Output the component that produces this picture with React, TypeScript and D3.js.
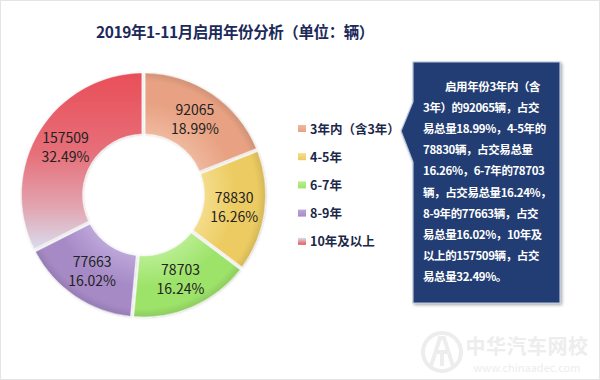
import React from "react";
import * as d3 from "d3";

const categories = ["3年内（含3年）", "4-5年", "6-7年", "8-9年", "10年及以上"];
const values = [92065, 78830, 78703, 77663, 157509];
const percents = ["18.99%", "16.26%", "16.24%", "16.02%", "32.49%"];
const colors = ["#E8A283", "#ECCC62", "#9DE36A", "#A68AC6", "#E9535B"];
const lightColors = ["#EFB89E", "#F4DC8A", "#B8EE90", "#BCA6D9", "#D8E1F3"];
const title = "2019年1-11月启用年份分析（单位：辆）";
const noteLines = [
  "启用年份3年内（含",
  "3年）的92065辆，占交",
  "易总量18.99%，4-5年的",
  "78830辆，占交易总量",
  "16.26%，6-7年的78703",
  "辆，占交易总量16.24%，",
  "8-9年的77663辆，占交",
  "易总量16.02%，10年及",
  "以上的157509辆，占交",
  "易总量32.49%。",
];

export default function App() {
  const W = 600, H = 380;
  const cx = 143.5, cy = 195;
  const rIn = 61, rOut = 122;
  const pie = d3.pie<number>().sort(null).value((d) => d);
  const arcs = pie(values);
  const arc = d3.arc<d3.PieArcDatum<number>>().innerRadius(rIn).outerRadius(rOut).padAngle(0.025);
  const labelArc = d3.arc<d3.PieArcDatum<number>>().innerRadius(rIn).outerRadius(rOut);

  const legendX = 298, legendY0 = 129, legendStep = 28.2;
  const box = { x: 413, y: 62, w: 147, h: 241 };
  const font = "'Noto Sans CJK SC', 'Noto Sans', sans-serif";

  return (
    <svg width={W} height={H} style={{ position: "absolute", left: 0, top: 0 }} fontFamily={font}>
      <defs>
        {colors.map((c, i) =>
          i === 4 ? (
            <linearGradient key={i} id={`g${i}`} gradientUnits="userSpaceOnUse" x1="0" y1={-rOut} x2="0" y2={58}>
              <stop offset="0" stopColor="#E94E58" />
              <stop offset="0.45" stopColor="#E6707A" />
              <stop offset="0.75" stopColor="#E2A6B2" />
              <stop offset="1" stopColor={lightColors[i]} />
            </linearGradient>
          ) : (
            <radialGradient key={i} id={`g${i}`} gradientUnits="userSpaceOnUse" cx={0} cy={0} r={rOut}>
              <stop offset="0.5" stopColor={lightColors[i]} />
              <stop offset="0.75" stopColor={c} />
              <stop offset="0.93" stopColor={c} />
              <stop offset="1" stopColor={d3.color(c)!.darker(0.3).toString()} />
            </radialGradient>
          )
        )}
        {colors.map((c, i) => (
          <linearGradient key={"l" + i} id={`lg${i}`} x1="0" y1="0" x2="0" y2="1">
            <stop offset="0" stopColor={lightColors[i]} />
            <stop offset="1" stopColor={c} />
          </linearGradient>
        ))}
        <filter id="sh" x="-20%" y="-20%" width="140%" height="140%">
          <feDropShadow dx="1.5" dy="1.5" stdDeviation="1.5" floodColor="#000" floodOpacity="0.35" />
        </filter>
        <filter id="ps" x="-20%" y="-20%" width="140%" height="140%">
          <feDropShadow dx="0.5" dy="0.5" stdDeviation="0.8" floodColor="#000" floodOpacity="0.2" />
        </filter>
      </defs>
      <rect x={0.5} y={0.5} width={W - 1} height={H - 1} fill="#fff" stroke="#e4e4e4" />
      <text x={235} y={38} textAnchor="middle" fontSize={15.5} fontWeight="bold" fill="#1B2A5A" letterSpacing={-0.4}>
        {title}
      </text>

      <g transform={`translate(${cx},${cy})`}>
        {arcs.map((a, i) => (
          <path key={i} d={arc(a)!} fill={`url(#g${i})`} stroke="#fff" strokeOpacity={0.5} strokeWidth={0.8} filter="url(#ps)" />
        ))}
        {arcs.map((a, i) => {
          const [lx, ly] = labelArc.centroid(a);
          return (
            <text key={"t" + i} transform={`translate(${lx},${ly})`} textAnchor="middle" fontSize={14} fill="#222">
              <tspan x={0} y={-4}>{values[i]}</tspan>
              <tspan x={0} y={15}>{percents[i]}</tspan>
            </text>
          );
        })}
      </g>

      <g>
        {categories.map((c, i) => (
          <g key={i} transform={`translate(${legendX},${legendY0 + i * legendStep})`}>
            <rect x={0} y={-4} width={8} height={7} fill={`url(#lg${i})`} />
            <text x={12} y={4.5} fontSize={12.5} fontWeight="bold" fill="#1C2848">
              {c}
            </text>
          </g>
        ))}
      </g>

      <g>
        <path
          d={`M${box.x},${box.y} H${box.x + box.w} V${box.y + box.h} H${box.x} V162 L401,131 L${box.x},102 Z`}
          fill="#213E73"
          stroke="#B8C4D8"
          strokeWidth={1.2}
          filter="url(#sh)"
        />
        {noteLines.map((l, i) => (
          <text
            key={i}
            x={i === 0 ? 445 : 423}
            y={91 + i * 21.1}
            fontSize={11.5}
            fontWeight="bold"
            fill="#fff"
            letterSpacing={-0.4}
          >
            {l}
          </text>
        ))}
      </g>

      <g>
        <circle cx={442} cy={352} r={19} fill="none" stroke="#EDEDED" strokeWidth={4} />
        <path d="M431,366 L440,338 L444,338 L453,366 M435,352 H449 M442,352 V366" fill="none" stroke="#EDEDED" strokeWidth={4} />
        <text x={527} y={354} textAnchor="middle" fontSize={20} fontWeight="bold" fill="#EDEDED" letterSpacing={0.5}>
          中华汽车网校
        </text>
        <text x={527} y={372} textAnchor="middle" fontSize={11} fill="#EDEDED">
          www.chinaadec.com
        </text>
      </g>
    </svg>
  );
}
